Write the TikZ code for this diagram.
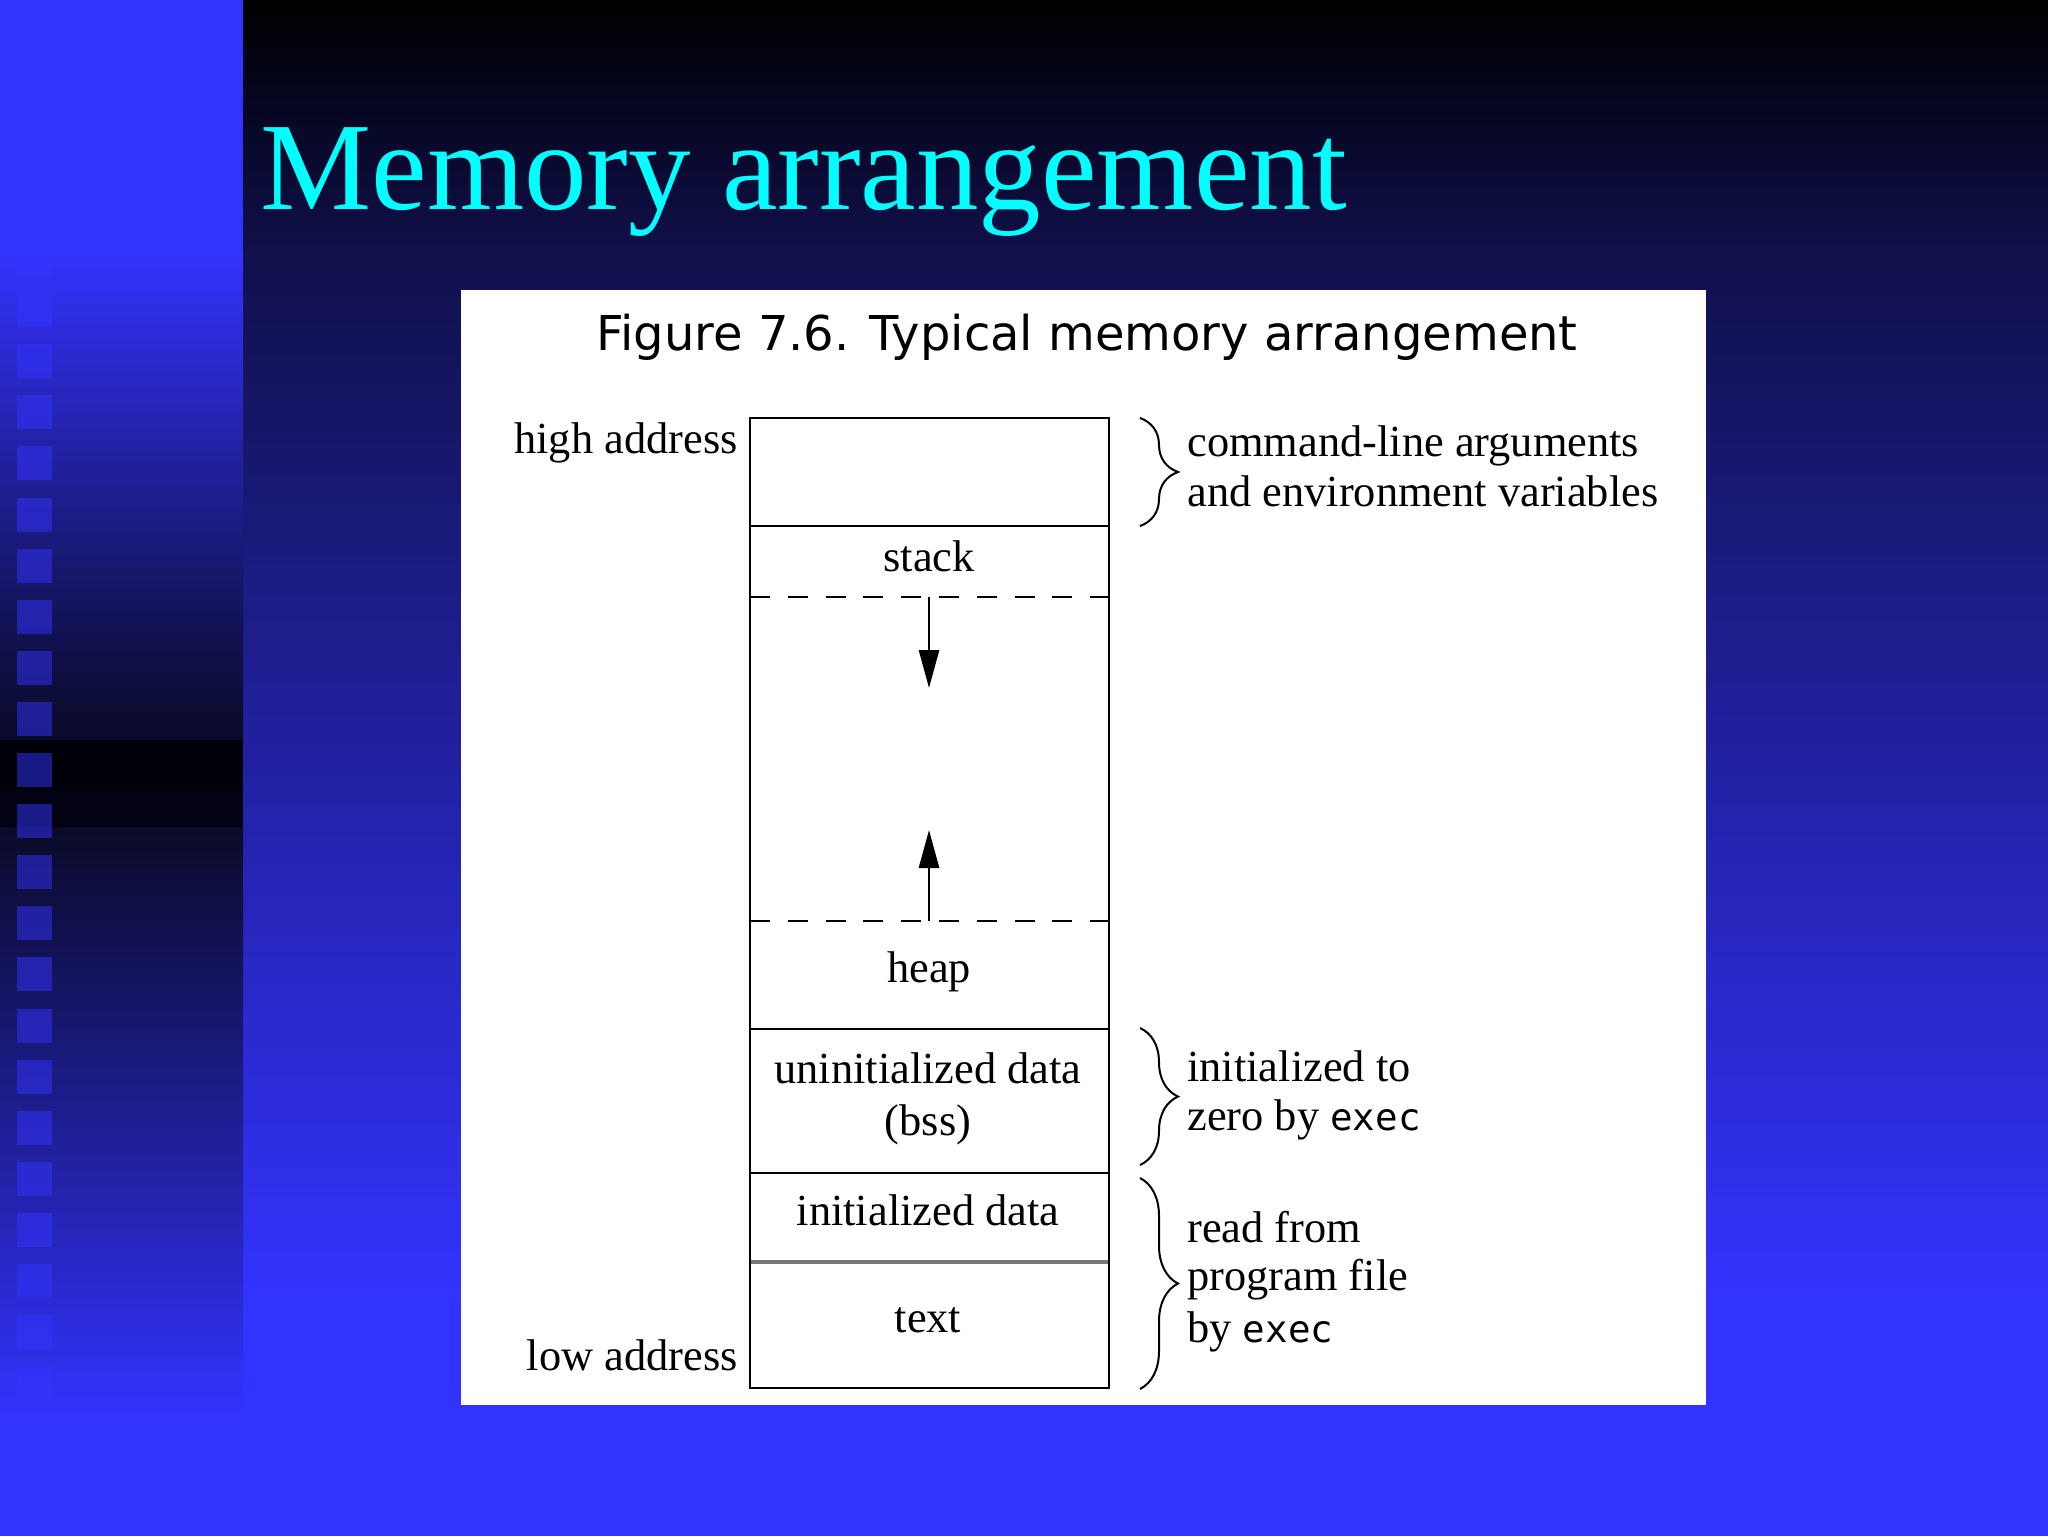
\documentclass[tikz,border=0pt]{standalone}
\usepackage{fontspec}
\usetikzlibrary{arrows.meta,decorations.pathreplacing}
\newfontfamily\titlefont{Liberation Serif}
\newfontfamily\labelfont{Liberation Serif}
\newfontfamily\figfont{DejaVu Sans}
\newfontfamily\execfont{DejaVu Sans Mono}
\definecolor{bgblue}{HTML}{3333FF}
\definecolor{navy}{HTML}{10104A}
\definecolor{nearblack}{HTML}{020210}
\definecolor{titlecyan}{HTML}{00FFFF}
\definecolor{stripdark}{HTML}{0A0A28}
\definecolor{stripblack}{HTML}{000008}
\definecolor{stripband}{HTML}{020214}
\definecolor{divgrey}{HTML}{787878}
\tikzset{
  slidetitle/.style={inner sep=0pt, text=titlecyan, font=\titlefont\fontsize{62.5pt}{70pt}\selectfont},
  figtitle/.style={inner sep=0pt, text=black, font=\figfont\fontsize{24pt}{28pt}\selectfont},
  lbl/.style={inner sep=0pt, text=black, font=\labelfont\fontsize{22.2pt}{26pt}\selectfont},
  boxline/.style={line width=1.4pt, black},
  dashline/.style={line width=1.4pt, black, dash pattern=on 10pt off 8.9pt},
  greyline/.style={line width=2.3pt, divgrey},
  growarrow/.style={line width=1.4pt, black, -{Triangle[length=19pt,width=10pt]}},
  bracemark/.style={line width=1pt, black, decorate, decoration={brace, amplitude=19pt, aspect=0.5}},
  tile/.style={fill=bgblue, opacity=0.5}
}
\newcommand{\ex}{{\execfont\fontsize{18.75pt}{24pt}\selectfont exec}}
\begin{document}
\begin{tikzpicture}[x=0.5pt,y=-0.5pt]
\useasboundingbox (0,0) rectangle (2048,1536);
% background
\fill[bgblue] (0,0) rectangle (2048,1536);
% main area gradient
\fill[top color=black, bottom color=nearblack] (243,0) rectangle (2048,51);
\fill[top color=nearblack, bottom color=navy] (243,50) rectangle (2048,251);
\fill[top color=navy, bottom color=bgblue] (243,250) rectangle (2048,1300);
% left strip gradient
\fill[top color=bgblue, bottom color=navy] (0,250) rectangle (243,651);
\fill[top color=navy, bottom color=stripdark] (0,650) rectangle (243,741);
\fill[stripblack] (0,740) rectangle (243,791);
\fill[stripband] (0,790) rectangle (243,828);
\fill[top color=stripdark, bottom color=navy] (0,827) rectangle (243,921);
\fill[top color=navy, bottom color=bgblue] (0,920) rectangle (243,1420);
% tiles
\foreach \k in {-3,...,24} \fill[tile] (17,{242+51.1*\k}) rectangle (52,{276+51.1*\k});
% slide title
\node[slidetitle, anchor=base west] (title) at (260,209) {Memory arrangement};
% white panel
\fill[white] (461,290) rectangle (1706,1405);
\node[figtitle, anchor=base] (figcap) at (1087,350) {Figure 7.6. Typical memory arrangement};
% memory box
\coordinate (tl) at (750,418);
\coordinate (br) at (1109,1388);
\draw[boxline] (tl) rectangle (br);
\draw[boxline] (750,526) -- (1109,526);
\draw[dashline] (750,597) -- (1109,597);
\draw[dashline] (750,921) -- (1109,921);
\draw[boxline] (750,1029) -- (1109,1029);
\draw[boxline] (750,1173) -- (1109,1173);
\draw[greyline] (751,1262) -- (1108,1262);
% arrows
\coordinate (stackedge) at (929,597);
\coordinate (stacktip) at (929,688);
\coordinate (heapedge) at (929,921);
\coordinate (heaptip) at (929,830);
\draw[growarrow] (stackedge) -- (stacktip);
\draw[growarrow] (heapedge) -- (heaptip);
% segment labels
\node[lbl, anchor=base] (stack) at (929,571) {stack};
\node[lbl, anchor=base] (heap) at (929,982) {heap};
\node[lbl, anchor=base] (bssa) at (928,1083) {uninitialized data};
\node[lbl, anchor=base] (bssb) at (928,1135) {(bss)};
\node[lbl, anchor=base] (idata) at (928,1225) {initialized data};
\node[lbl, anchor=base] (txt) at (928,1332) {text};
% address labels
\node[lbl, anchor=base east] (high) at (738,453) {high address};
\node[lbl, anchor=base east] (low) at (738,1370) {low address};
% braces
\coordinate (b1t) at (1140,418);
\coordinate (b1b) at (1140,526);
\coordinate (b2t) at (1140,1028);
\coordinate (b2b) at (1140,1165);
\coordinate (b3t) at (1140,1178);
\coordinate (b3b) at (1140,1389);
\draw[bracemark] (b1t) -- (b1b);
\draw[bracemark] (b2t) -- (b2b);
\draw[bracemark] (b3t) -- (b3b);
% brace labels
\node[lbl, anchor=base west] (args1) at (1187,456) {command-line arguments};
\node[lbl, anchor=base west] (args2) at (1187,506) {and environment variables};
\node[lbl, anchor=base west] (zero1) at (1187,1081) {initialized to};
\node[lbl, anchor=base west] (zero2) at (1187,1130) {zero by \ex};
\node[lbl, anchor=base west] (read1) at (1187,1242) {read from};
\node[lbl, anchor=base west] (read2) at (1187,1290) {program file};
\node[lbl, anchor=base west] (read3) at (1187,1342) {by \ex};
\end{tikzpicture}
\end{document}
